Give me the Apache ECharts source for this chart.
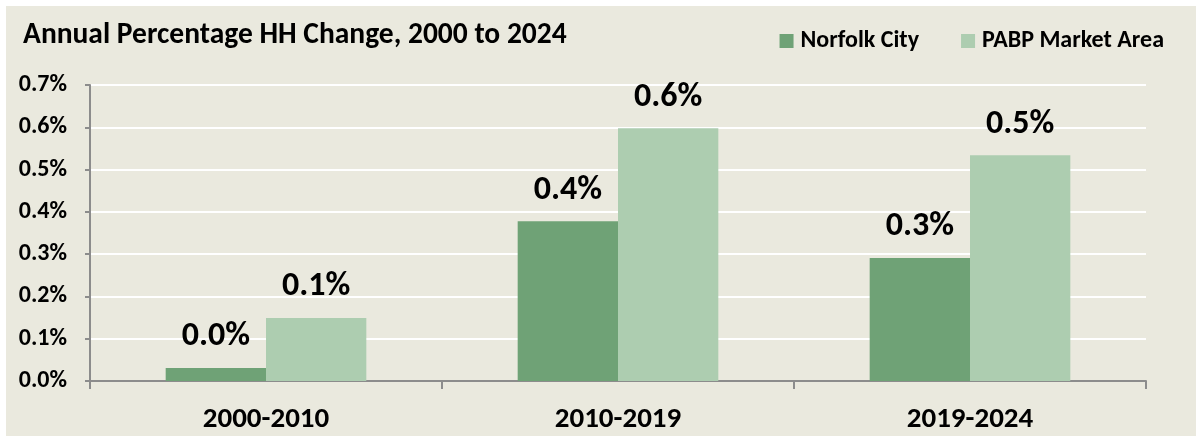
<!DOCTYPE html>
<html><head><meta charset="utf-8">
<script src="https://cdn.jsdelivr.net/npm/echarts@6/dist/echarts.min.js"></script>
<style>
html,body{margin:0;padding:0;background:#ffffff;width:1196px;height:436px;overflow:hidden;}
#c{position:absolute;left:6px;top:6px;width:1190px;height:430px;}
</style></head>
<body><div id="c"></div>
<script>
const categories = ['2000-2010', '2010-2019', '2019-2024'];
const norfolkCity = [0.031, 0.378, 0.291];
const pabpMarketArea = [0.149, 0.598, 0.534];
const seriesNames = ['Norfolk City', 'PABP Market Area'];
const titleText = 'Annual Percentage HH Change, 2000 to 2024';

const FONT = 'Carlito, Lato, "Open Sans", sans-serif';
const chart = echarts.init(document.getElementById('c'), null, {renderer: 'canvas'});
const fmtPct = v => Number(v).toFixed(1) + '%';
chart.setOption({
  backgroundColor: '#eae9de',
  animation: false,
  title: {
    text: titleText, left: 12, top: 10,
    textStyle: {fontFamily: FONT, fontWeight: 'bold', fontSize: 29.5, color: '#000'}
  },
  legend: {
    data: seriesNames, right: 27, top: 18, itemWidth: 14, itemHeight: 14, itemGap: 42,
    icon: 'rect',
    textStyle: {fontFamily: FONT, fontWeight: 'bold', fontSize: 24, color: '#000', padding: [0,0,0,2]}
  },
  grid: {left: 84, right: 50, top: 79, bottom: 55, containLabel: false},
  xAxis: {
    type: 'category', data: categories,
    axisLine: {lineStyle: {color: '#8c8c8c', width: 2}},
    axisTick: {show: true, length: 8, lineStyle: {color: '#8c8c8c', width: 2}},
    axisLabel: {fontFamily: FONT, fontWeight: 'bold', fontSize: 29, color: '#000', margin: 24}
  },
  yAxis: {
    type: 'value', min: 0, max: 0.7, interval: 0.1,
    axisLine: {show: true, lineStyle: {color: '#8c8c8c', width: 2}},
    axisTick: {show: true, length: 5, lineStyle: {color: '#8c8c8c', width: 2}},
    splitLine: {lineStyle: {color: '#ffffff', width: 2}},
    axisLabel: {formatter: fmtPct, fontFamily: FONT, fontWeight: 'bold', fontSize: 24, color: '#000', margin: 23}
  },
  series: [
    {name: seriesNames[0], type: 'bar', data: norfolkCity, barGap: '0%', barCategoryGap: '43%',
     itemStyle: {color: '#6fa276'},
     label: {show: true, position: 'top', distance: 14, formatter: p => fmtPct(p.value),
             fontFamily: FONT, fontWeight: 'bold', fontSize: 34, color: '#000'}},
    {name: seriesNames[1], type: 'bar', data: pabpMarketArea, barGap: '0%', barCategoryGap: '43%',
     itemStyle: {color: '#adcdb0'},
     label: {show: true, position: 'top', distance: 14, formatter: p => fmtPct(p.value),
             fontFamily: FONT, fontWeight: 'bold', fontSize: 34, color: '#000'}}
  ]
});
</script></body></html>
